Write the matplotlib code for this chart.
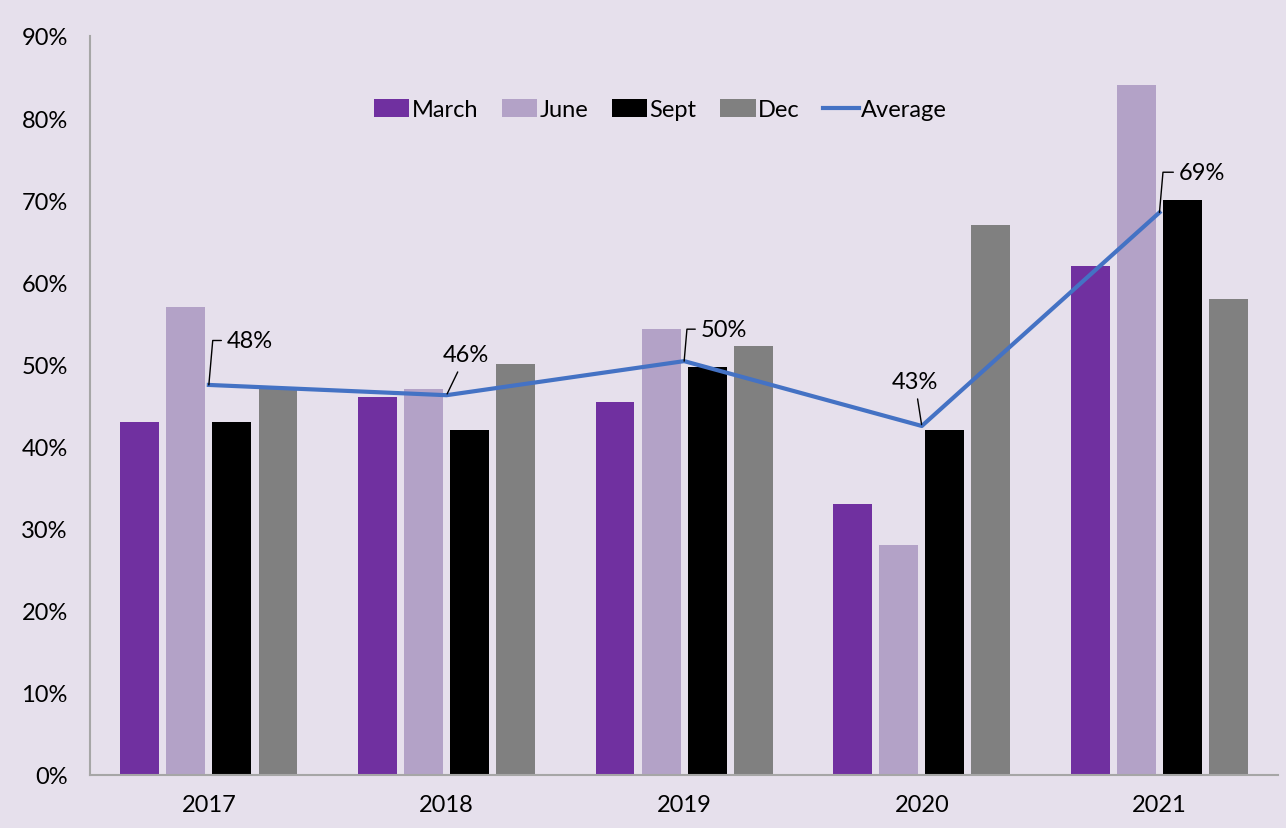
import numpy as np
import matplotlib.pyplot as plt
from matplotlib import rcParams
from matplotlib.ticker import FuncFormatter

rcParams['font.family'] = ['Lato', 'DejaVu Sans']
rcParams['font.size'] = 17

# data (fractions)
years = ['2017', '2018', '2019', '2020', '2021']
march = [0.43, 0.46, 0.454, 0.33, 0.62]
june = [0.57, 0.47, 0.543, 0.28, 0.84]
sept = [0.43, 0.42, 0.497, 0.42, 0.70]
dec = [0.47, 0.50, 0.523, 0.67, 0.58]
average = [0.475, 0.4625, 0.504, 0.425, 0.685]
avg_labels = ['48%', '46%', '50%', '43%', '69%']

series = [march, june, sept, dec]
names = ['March', 'June', 'Sept', 'Dec']
colors = ['#7030A0', '#B3A2C7', '#000000', '#808080']
bg = '#E6E0EC'

fig = plt.figure(figsize=(12.86, 8.29), dpi=100, facecolor=bg)
ax = fig.add_axes([0.07, 0.064, 0.924, 0.8914])
ax.set_facecolor(bg)

x = np.arange(len(years))
step = 0.194
width = 0.164
handles = []
for i, (vals, name, col) in enumerate(zip(series, names, colors)):
    b = ax.bar(x + (i - 1.5) * step, vals, width=width, color=col, label=name, zorder=2)
    handles.append(b)

ln, = ax.plot(x, average, color='#4472C4', lw=3, label='Average', zorder=3)
handles.append(ln)

# labels on the average line (offsets in points)
offsets = [(13, 32), (14, 29), (12, 23), (-5, 32), (14, 29)]
for xi, yi, txt, (dx, dy) in zip(x, average, avg_labels, offsets):
    if txt in ('46%', '43%'):
        ax.annotate(txt, xy=(xi, yi), xytext=(dx, dy), textcoords='offset points',
                    ha='center', va='center', fontsize=17,
                    arrowprops=dict(arrowstyle='-', color='k', lw=1,
                                    shrinkA=3, shrinkB=1))
    else:
        ax.annotate(txt, xy=(xi, yi), xytext=(dx, dy), textcoords='offset points',
                    ha='left', va='center', fontsize=17,
                    arrowprops=dict(arrowstyle='-', color='k', lw=1,
                                    shrinkA=2, shrinkB=0,
                                    connectionstyle='angle,angleA=0,angleB=85,rad=0'))

ax.set_xlim(-0.5, 4.5)
ax.set_ylim(0, 0.9)
ax.set_yticks(np.arange(0, 0.91, 0.1))
ax.yaxis.set_major_formatter(FuncFormatter(lambda v, p: '%d%%' % round(v * 100)))
ax.set_xticks(x)
ax.set_xticklabels(years)
ax.tick_params(axis='y', length=0, pad=16, labelsize=17)
ax.tick_params(axis='x', length=0, pad=14, labelsize=17)

for s in ['top', 'right']:
    ax.spines[s].set_visible(False)
for s in ['left', 'bottom']:
    ax.spines[s].set_color('#A6A6A6')
    ax.spines[s].set_linewidth(1.5)

ax.legend(handles, names + ['Average'], loc='center', bbox_to_anchor=(0.48, 0.9),
          ncol=5, frameon=False, handlelength=1.5, handleheight=0.8,
          handletextpad=0.1, columnspacing=1.0, fontsize=17)

fig.savefig('out.png', dpi=100, facecolor=bg)
